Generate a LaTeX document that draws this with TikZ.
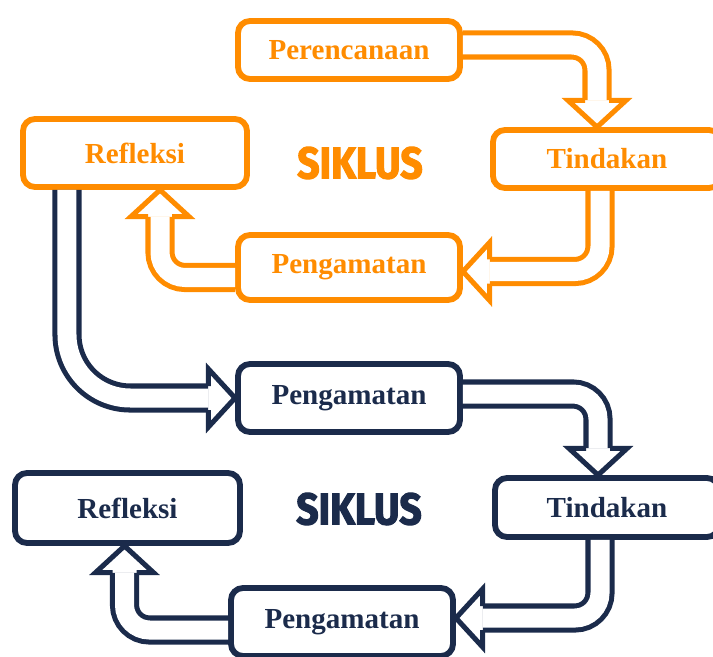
\documentclass[tikz,border=0pt]{standalone}
\usepackage{fontspec}
\setmainfont{Liberation Serif}
\newfontfamily\siklusfont{Fira Sans}[FakeBold=2.5, FakeStretch=0.88]
\usepackage{xcolor}
\definecolor{siklusorange}{HTML}{FF8C00}
\definecolor{siklusnavy}{HTML}{1B2B4B}

\tikzset{
    blockhead/.pic={
        \filldraw[draw=#1, fill=white, line width=4.3pt]
            (-0.8cm,0.36cm) -- (-0.8cm,0.87cm) -- (0,0) -- (-0.8cm,-0.87cm) -- (-0.8cm,-0.36cm);
    }
}

\begin{document}
\begin{tikzpicture}[x=0.03cm, y=-0.03cm,
    stage/.style={rectangle, rounded corners=0.36cm, draw=#1, fill=white, line width=5pt, text=#1, font=\fontsize{24.8}{28}\selectfont\bfseries, inner sep=0pt, minimum width=6.66cm, minimum height=2.04cm},
    title/.style={font=\siklusfont\bfseries\fontsize{38}{40}\selectfont, text=#1, inner sep=0pt},
    shaft/.style={draw=#1, line width=4.3pt, double=white, double distance=0.57cm, rounded corners=0.75cm, shorten >=0.8cm}
]
    \useasboundingbox (0,0) rectangle (713,657);

    % Siklus 1
    \node[stage=siklusorange, minimum height=1.74cm] (perencanaan) at (349,50) {Perencanaan};
    \node[stage=siklusorange, minimum width=6.84cm, minimum height=1.74cm] (tindakanA) at (607,159) {Tindakan};
    \node[stage=siklusorange, minimum width=6.72cm] (refleksiA) at (135,153) {Refleksi};
    \node[stage=siklusorange, minimum height=1.95cm] (pengamatanA) at (349,267.5) {Pengamatan};
    \node[title=siklusorange] (siklusA) at (360,163) {SIKLUS};

    % Siklus 2
    \node[stage=siklusnavy] (pengamatanB) at (349,398) {Pengamatan};
    \node[stage=siklusnavy, minimum width=6.72cm, minimum height=1.77cm] (tindakanB) at (607,507.5) {Tindakan};
    \node[stage=siklusnavy, minimum width=6.75cm, minimum height=2.1cm] (refleksiB) at (127.5,508) {Refleksi};
    \node[stage=siklusnavy] (pengamatanC) at (342,622) {Pengamatan};
    \node[title=siklusnavy] (siklusB) at (359,509) {SIKLUS};

    % Arrows of siklus 1
    \draw[shaft=siklusorange] ([yshift=0.15cm]perencanaan.east) -| ([xshift=-0.3cm]tindakanA.north);
    \pic[rotate=-90] at ([xshift=-0.3cm]tindakanA.north) {blockhead=siklusorange};

    \draw[shaft=siklusorange] ([xshift=-0.21cm]tindakanA.south) |- ([yshift=-0.12cm]pengamatanA.east);
    \pic[rotate=180] at ([yshift=-0.12cm]pengamatanA.east) {blockhead=siklusorange};

    \draw[shaft=siklusorange] ([yshift=-0.3cm]pengamatanA.west) -| ([xshift=0.75cm]refleksiA.south);
    \pic[rotate=90] at ([xshift=0.75cm]refleksiA.south) {blockhead=siklusorange};

    % Into siklus 2
    \draw[shaft=siklusnavy, rounded corners=1.9cm] ([xshift=-2.04cm]refleksiA.south) |- (pengamatanB.west);
    \pic at (pengamatanB.west) {blockhead=siklusnavy};

    % Arrows of siklus 2
    \draw[shaft=siklusnavy] ([yshift=0.12cm]pengamatanB.east) -| ([xshift=-0.27cm]tindakanB.north);
    \pic[rotate=-90] at ([xshift=-0.27cm]tindakanB.north) {blockhead=siklusnavy};

    \draw[shaft=siklusnavy] ([xshift=-0.21cm]tindakanB.south) |- ([yshift=0.12cm]pengamatanC.east);
    \pic[rotate=180] at ([yshift=0.12cm]pengamatanC.east) {blockhead=siklusnavy};

    \draw[shaft=siklusnavy] ([yshift=-0.24cm]pengamatanC.west) -| ([xshift=-0.09cm]refleksiB.south);
    \pic[rotate=90] at ([xshift=-0.09cm]refleksiB.south) {blockhead=siklusnavy};

\end{tikzpicture}
\end{document}
